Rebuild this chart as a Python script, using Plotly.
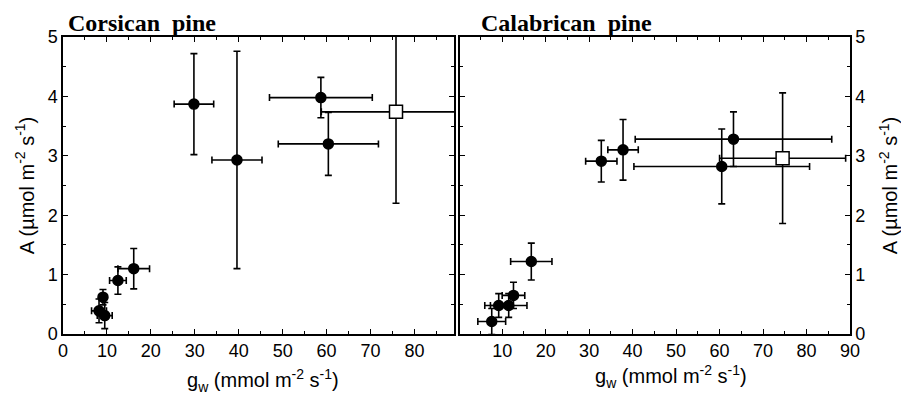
import plotly.graph_objects as go

# Corsican pine (left panel)
cors_gw = [29.8, 39.6, 58.7, 60.4, 16.1, 12.5, 9.1, 8.2, 9.5]
cors_gw_err = [4.5, 5.7, 11.7, 11.4, 3.6, 1.9, 0.6, 1.7, 1.7]
cors_A = [3.87, 2.93, 3.98, 3.20, 1.10, 0.90, 0.62, 0.39, 0.31]
cors_A_err = [0.85, 1.83, 0.34, 0.53, 0.34, 0.23, 0.13, 0.20, 0.22]
cors_mean_gw = [75.8]
cors_mean_gw_err = [17.0]
cors_mean_A = [3.74]
cors_mean_A_err = [1.54]

# Calabrican pine (right panel)
cal_gw = [32.8, 37.8, 63.2, 60.5, 16.7, 12.6, 9.2, 11.5, 7.6]
cal_gw_err = [3.6, 3.5, 22.6, 20.2, 4.75, 2.6, 3.2, 4.2, 3.2]
cal_A = [2.91, 3.10, 3.28, 2.82, 1.22, 0.65, 0.48, 0.48, 0.21]
cal_A_err = [0.35, 0.51, 0.46, 0.63, 0.31, 0.22, 0.20, 0.20, 0.22]
cal_mean_gw = [74.5]
cal_mean_gw_err = [14.5]
cal_mean_A = [2.96]
cal_mean_A_err = [1.1]

x_ticks_left = [0, 10, 20, 30, 40, 50, 60, 70, 80]
x_ticks_right = [10, 20, 30, 40, 50, 60, 70, 80, 90]
y_ticks = [0, 1, 2, 3, 4, 5]

ERR = dict(color="black", thickness=1.6, width=3.5)


def add_points(fig, x, xe, y, ye, xa, ya, symbol, size, fill):
    fig.add_trace(go.Scatter(
        x=x, y=y, mode="markers", xaxis=xa, yaxis=ya,
        error_x=dict(type="data", array=xe, visible=True, **ERR),
        error_y=dict(type="data", array=ye, visible=True, **ERR),
        marker=dict(symbol=symbol, size=size, color=fill,
                    line=dict(color="black", width=1.5)),
        showlegend=False, hoverinfo="skip",
    ))


fig = go.Figure()
add_points(fig, cors_gw, cors_gw_err, cors_A, cors_A_err, "x", "y", "circle", 10, "black")
add_points(fig, cors_mean_gw, cors_mean_gw_err, cors_mean_A, cors_mean_A_err, "x", "y", "square", 13, "white")
add_points(fig, cal_gw, cal_gw_err, cal_A, cal_A_err, "x2", "y2", "circle", 10, "black")
add_points(fig, cal_mean_gw, cal_mean_gw_err, cal_mean_A, cal_mean_A_err, "x2", "y2", "square", 13, "white")

SANS = "Liberation Sans, Arial, sans-serif"
tickfont = dict(family=SANS, size=18, color="black")
titlefont = dict(family=SANS, size=20, color="black")

axis_common = dict(
    showline=True, linecolor="black", linewidth=1.5, mirror="allticks",
    ticks="inside", ticklen=5, tickwidth=1.2, tickcolor="black",
    showgrid=False, zeroline=False, tickfont=tickfont, automargin=False,
)

xtitle = "g<sub>w</sub> (mmol m<sup>-2</sup> s<sup>-1</sup>)"
ytitle = "A (µmol m<sup>-2</sup> s<sup>-1</sup>)"

# page body has an 8px margin, so the figure starts at (8, 8) in the window
OFF = 8
W, H = 893, 387
PX_L, PX_R, PX_T, PX_B = 63, 850, 37, 334  # plot area in window pixels
L, T = PX_L - OFF, PX_T - OFF
R = W - (PX_R - OFF)
B = H - (PX_B - OFF)
pw = PX_R - PX_L
ph = PX_B - PX_T


def px(xw):
    return (xw - PX_L) / pw


def py(yw):
    return (PX_B - yw) / ph


fig.update_layout(
    width=W, height=H,
    margin=dict(l=L, r=R, t=T, b=B, autoexpand=False),
    paper_bgcolor="white", plot_bgcolor="white",
    xaxis=dict(domain=[0, px(454)], range=[0, 89], tickvals=x_ticks_left,
               minor=dict(dtick=5, ticks="inside", ticklen=3, tickcolor="black"),
               anchor="y", **axis_common),
    yaxis=dict(domain=[0, 1], range=[0, 5], tickvals=y_ticks,
               minor=dict(dtick=0.5, ticks="inside", ticklen=3, tickcolor="black"),
               title=dict(text=ytitle, font=titlefont, standoff=8), anchor="x",
               **axis_common),
    xaxis2=dict(domain=[px(460), 1], range=[0.3, 90], tickvals=x_ticks_right,
                minor=dict(dtick=5, ticks="inside", ticklen=3, tickcolor="black"),
                anchor="y2", **axis_common),
    yaxis2=dict(domain=[0, 1], range=[0, 5], tickvals=y_ticks, side="right",
                minor=dict(dtick=0.5, ticks="inside", ticklen=3, tickcolor="black"),
                title=dict(text=ytitle, font=titlefont, standoff=31), anchor="x2",
                **axis_common),
)

# x-axis titles (placed individually, as in the reference)
fig.add_annotation(text=xtitle, xref="paper", yref="paper", x=px(263), y=py(380),
                   xanchor="center", yanchor="middle", showarrow=False, font=titlefont)
fig.add_annotation(text=xtitle, xref="paper", yref="paper", x=px(671), y=py(376),
                   xanchor="center", yanchor="middle", showarrow=False, font=titlefont)

serif = dict(family="Liberation Serif, Times New Roman, serif", size=24, color="black")
fig.add_annotation(text="<b>Corsican&nbsp;&nbsp;pine</b>", xref="paper", yref="paper",
                   x=px(66), y=py(OFF), xanchor="left", yanchor="top",
                   showarrow=False, font=serif)
fig.add_annotation(text="<b>Calabrican&nbsp;&nbsp;pine</b>", xref="paper", yref="paper",
                   x=px(479), y=py(OFF), xanchor="left", yanchor="top",
                   showarrow=False, font=serif)

fig.write_html("out.html")
